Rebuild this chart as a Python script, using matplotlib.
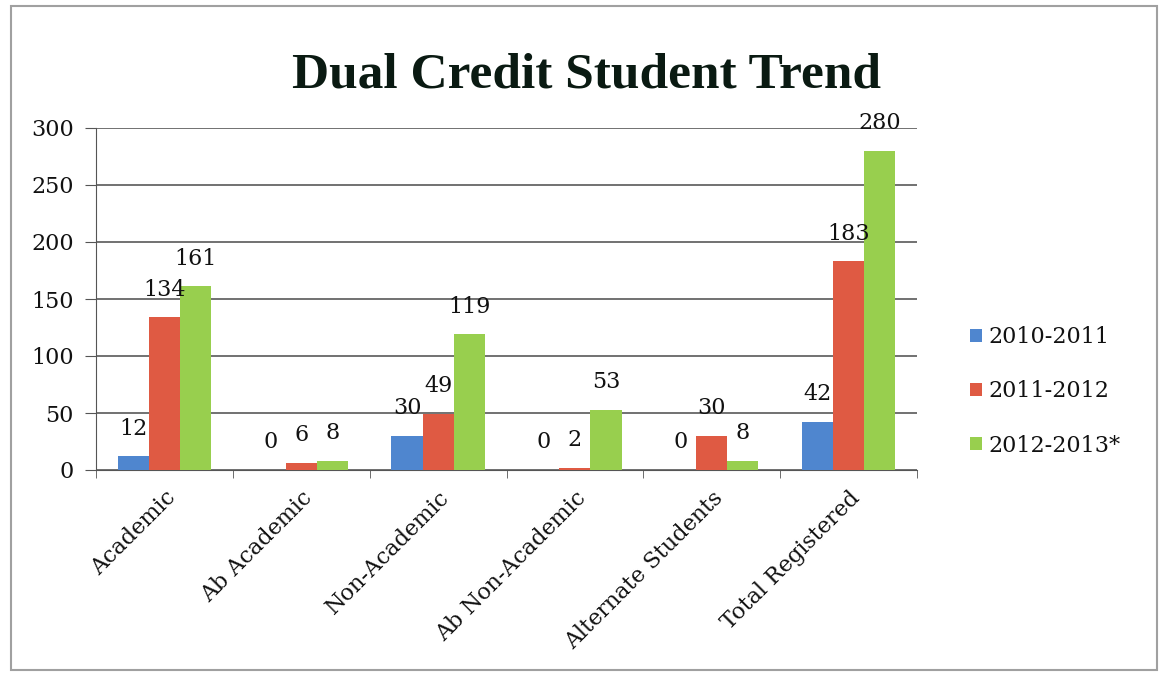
import numpy as np
import matplotlib
matplotlib.use('Agg')
import matplotlib.pyplot as plt
from matplotlib.patches import Rectangle

categorias = ['Academic', 'Ab Academic', 'Non-Academic', 'Ab Non-Academic',
              'Alternate Students', 'Total Registered']
anos = ['2010-2011', '2011-2012', '2012-2013*']
v_2010 = [12, 0, 30, 0, 0, 42]
v_2011 = [134, 6, 49, 2, 30, 183]
v_2012 = [161, 8, 119, 53, 8, 280]
yticks = [0, 50, 100, 150, 200, 250, 300]

cores = ['#4F86CF', '#DF5A43', '#98CF4E']
fonte = 'DejaVu Serif'
fonte_titulo = 'Liberation Serif'

fig = plt.figure(figsize=(11.6, 6.76), dpi=100)
ax = fig.add_axes([96 / 1160, 1 - 470 / 676, (917 - 96) / 1160, (470 - 128) / 676])

x = np.arange(len(categorias))
w = 0.227
series = [v_2010, v_2011, v_2012]
for i, (vals, cor, nome) in enumerate(zip(series, cores, anos)):
    pos = x + (i - 1) * w
    ax.bar(pos, vals, width=w, color=cor, label=nome, zorder=3)
    for p, v in zip(pos, vals):
        ax.annotate(str(v), (p, v), xytext=(0, 12), textcoords='offset points',
                    ha='center', va='bottom', fontsize=16, family=fonte,
                    color='#111111', zorder=4)

ax.set_xlim(-0.5, len(categorias) - 0.5)
ax.set_ylim(0, 300)
ax.set_yticks(yticks)
ax.set_yticklabels([str(t) for t in yticks], family=fonte, fontsize=16,
                   color='#111111')
ax.yaxis.grid(True, color='#666666', linewidth=1.3, zorder=0)
ax.set_axisbelow(True)

ax.set_xticks(np.arange(len(categorias) + 1) - 0.5, minor=True)
ax.set_xticks(x)
ax.set_xticklabels(categorias, rotation=45, ha='right', rotation_mode='anchor',
                   family=fonte, fontsize=16, color='#111111')
ax.tick_params(axis='x', which='major', length=0, pad=12)
ax.tick_params(axis='x', which='minor', length=6, color='#555555')
ax.tick_params(axis='y', length=8, color='#555555', pad=8)

for s in ['top', 'right']:
    ax.spines[s].set_visible(False)
ax.spines['left'].set_color('#555555')
ax.spines['bottom'].set_color('#555555')

fig.text(587 / 1160, 1 - 75 / 676, 'Dual Credit Student Trend', ha='center',
         va='center', fontsize=37, fontweight='bold', family=fonte_titulo,
         color='#0a1a12')

leg = ax.legend(loc='center left', bbox_to_anchor=(1.04, 0.23), frameon=False,
                prop={'family': fonte, 'size': 16}, handlelength=0.55,
                handleheight=0.55, handletextpad=0.3, labelspacing=1.45)
for t in leg.get_texts():
    t.set_color('#111111')

fig.patches.append(Rectangle((11 / 1160, 6 / 676), 1 - 14 / 1160, 1 - 12 / 676,
                             transform=fig.transFigure, fill=False,
                             edgecolor='#a0a0a0', linewidth=1.5))

fig.savefig('out.png', dpi=100)
